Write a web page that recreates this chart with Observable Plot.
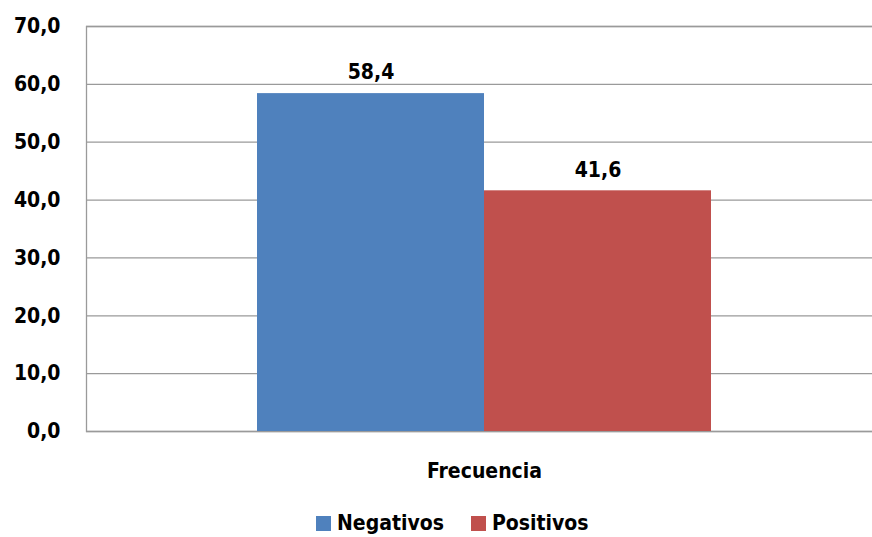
<!DOCTYPE html>
<html>
<head>
<meta charset="utf-8">
<script src="https://cdn.jsdelivr.net/npm/d3@7"></script>
<script src="https://cdn.jsdelivr.net/npm/@observablehq/plot@0.6"></script>
<style>
  html, body { margin: 0; padding: 0; background: #fff; overflow: hidden; }
  #chart svg { display: block; }
  .legend { position: relative; height: 37px; font-family: "DejaVu Sans Condensed", "DejaVu Sans", sans-serif; font-stretch: condensed; font-weight: bold; font-size: 21px; line-height: 24px; color: #000; white-space: nowrap; }
  .legend .item { position: absolute; top: 11px; display: flex; align-items: center; }
  .legend .sw { width: 15px; height: 15px; margin-right: 6px; }
</style>
</head>
<body>
<div id="chart"></div>
<div class="legend" id="legend"></div>
<script>
const categories = ["Frecuencia"];
const series = ["Negativos", "Positivos"];
const values = [58.4, 41.6];
const colors = ["#4F81BD", "#C0504D"];
const yTicks = [0, 10, 20, 30, 40, 50, 60, 70];

const fmt = d => d.toFixed(1).replace(".", ",");
const data = series.map((s, i) => ({category: categories[0], series: s, value: values[i]}));

const plot = Plot.plot({
  width: 872,
  height: 500,
  marginLeft: 86,
  marginRight: -10,
  marginTop: 26,
  marginBottom: 69,
  style: {fontFamily: "'DejaVu Sans Condensed', 'DejaVu Sans', sans-serif", fontStretch: "condensed", fontWeight: "bold", fontSize: "21px", color: "#000", background: "#fff"},
  x: {domain: series, paddingInner: 0, paddingOuter: 0.75, axis: null},
  y: {domain: [0, 70], ticks: yTicks, tickFormat: fmt, label: null},
  color: {domain: series, range: colors},
  marks: [
    Plot.gridY(yTicks, {stroke: "#9a9a9a", strokeOpacity: 1, strokeWidth: 1.3}),
    Plot.frame({stroke: "#9a9a9a", strokeWidth: 1.3}),
    Plot.axisY({ticks: yTicks, tickFormat: fmt, tickSize: 0, tickPadding: 26, label: null, fontSize: 21, fill: "#000"}),
    Plot.barY(data, {x: "series", y: "value", fill: "series"}),
    Plot.text(data, {x: "series", y: "value", text: d => fmt(d.value), dy: -21, fontSize: 21, fill: "#000"}),
    Plot.text(categories, {frameAnchor: "bottom", text: d => d, dy: 46, fontSize: 21, fill: "#000"})
  ]
});
document.getElementById("chart").appendChild(plot);

const legend = document.getElementById("legend");
const lefts = [316, 471];
series.forEach((s, i) => {
  const item = document.createElement("div");
  item.className = "item";
  item.style.left = lefts[i] + "px";
  const sw = document.createElement("div");
  sw.className = "sw";
  sw.style.background = colors[i];
  const t = document.createElement("span");
  t.textContent = s;
  item.appendChild(sw);
  item.appendChild(t);
  legend.appendChild(item);
});
</script>
</body>
</html>
